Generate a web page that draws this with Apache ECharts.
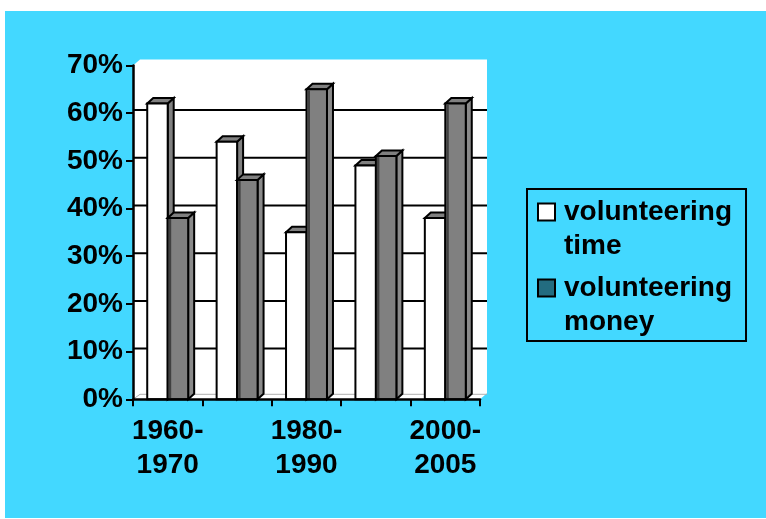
<!DOCTYPE html>
<html>
<head>
<meta charset="utf-8">
<script src="https://cdn.jsdelivr.net/npm/echarts@6/dist/echarts.min.js"></script>
<style>
  html, body { margin: 0; padding: 0; background: #ffffff; width: 766px; height: 519px; overflow: hidden; }
  #chart { position: absolute; left: 5px; top: 11px; width: 761px; height: 507px; }
</style>
</head>
<body>
<div id="chart"></div>
<script>
// ---- data ----
const categories = ['1960-\n1970', '1970-\n1980', '1980-\n1990', '1990-\n2000', '2000-\n2005'];
const timeValues = [62, 54, 35, 49, 38];
const moneyValues = [38, 46, 65, 51, 62];
const yTicks = [0, 10, 20, 30, 40, 50, 60, 70];
const seriesNames = ['volunteering time', 'volunteering money'];

// ---- styles ----
const FONT = 'Liberation Sans';
const BG = '#43D8FF';
const DX = 6, DY = -5.5;          // bar depth offset
const WDX = 7, WDY = -6, GDY = -3; // wall depth offsets

const chart = echarts.init(document.getElementById('chart'), null, { renderer: 'canvas' });

function barRender(kind) {
  return function (params, api) {
    const i = api.value(0), v = api.value(1);
    const c = api.coord([i, v]);
    const b = api.coord([i, 0]);
    const w = api.size([1, 0])[0] * 0.295;
    let xL, xR;
    if (kind === 'time') { xL = c[0] - w; xR = c[0]; } else { xL = c[0]; xR = c[0] + w; }
    const yT = c[1], yB = b[1];
    const frontFill = kind === 'time' ? '#ffffff' : '#808080';
    const sideFill = kind === 'time' ? '#808080' : '#8a8a8a';
    const topFill = '#808080';
    const stroke = { stroke: '#000', lineWidth: 2, lineJoin: 'miter' };
    const children = [
      { type: 'polygon', shape: { points: [[xR, yT], [xR + DX, yT + DY], [xR + DX, yB + DY], [xR, yB]] },
        style: Object.assign({ fill: sideFill }, stroke) },
      { type: 'polygon', shape: { points: [[xL, yT], [xL + DX, yT + DY], [xR + DX, yT + DY], [xR, yT]] },
        style: Object.assign({ fill: topFill }, stroke) },
      { type: 'rect', shape: { x: xL, y: yT, width: xR - xL, height: yB - yT },
        style: Object.assign({ fill: frontFill }, stroke) }
    ];
    if (kind === 'money') {
      children.push({ type: 'rect', shape: { x: xL + 1, y: yT + 1, width: 2.5, height: yB - yT - 2 },
        style: { fill: '#404040' } });
    }
    return { type: 'group', children: children };
  };
}

function wallRender(params, api) {
  const cs = params.coordSys;
  const x0 = cs.x, x1 = cs.x + cs.width, yT = cs.y, yB = cs.y + cs.height;
  const children = [
    { type: 'polygon', shape: { points: [[x0, yT], [x0 + WDX, yT + WDY], [x1 + WDX, yT + WDY], [x1 + WDX, yB + WDY], [x1, yB], [x0, yB]] },
      style: { fill: '#ffffff' } },
    { type: 'line', shape: { x1: x0 + WDX, y1: yB + WDY + 1, x2: x1 + WDX, y2: yB + WDY + 1 },
      style: { stroke: '#b0b0b0', lineWidth: 1 } },
    { type: 'line', shape: { x1: x0, y1: yB, x2: x0 + WDX, y2: yB + WDY + 1 },
      style: { stroke: '#b0b0b0', lineWidth: 1 } }
  ];
  yTicks.forEach(function (t) {
    if (t === yTicks[0] || t === yTicks[yTicks.length - 1]) return;
    const y = api.coord([0, t])[1] + GDY;
    children.push({ type: 'line', shape: { x1: x0, y1: y, x2: x1 + WDX, y2: y },
      style: { stroke: '#000', lineWidth: 2 } });
  });
  return { type: 'group', children: children };
}

const option = {
  backgroundColor: BG,
  animation: false,
  textStyle: { fontFamily: FONT },
  grid: { left: 128, top: 54.4, width: 347, height: 333.9, containLabel: false },
  legend: {
    orient: 'vertical',
    left: 522,
    top: 178,
    padding: [5, 14, 1, 10],
    borderColor: '#000',
    borderWidth: 2,
    borderRadius: 0,
    itemGap: 6,
    itemWidth: 17,
    itemHeight: 68,
    selectedMode: false,
    icon: 'path://M0,0 M0,8.5 h17 v17 h-17 Z M0,68',
    formatter: function (name) { return name.replace(' ', '\n'); },
    textStyle: { fontFamily: FONT, fontSize: 28, fontWeight: 'bold', color: '#000', lineHeight: 34, padding: [0, 0, 0, 4] },
    data: [
      { name: seriesNames[0], itemStyle: { color: '#ffffff', borderColor: '#000', borderWidth: 2 } },
      { name: seriesNames[1], itemStyle: { color: '#236C80', borderColor: '#000', borderWidth: 2 } }
    ]
  },
  xAxis: {
    type: 'category',
    data: categories,
    boundaryGap: true,
    z: 5,
    axisLine: { show: true, lineStyle: { color: '#000', width: 2.5 } },
    axisTick: { show: true, interval: 0, alignWithLabel: false, length: 7, lineStyle: { color: '#000', width: 2 } },
    axisLabel: { interval: 1, margin: 15, fontFamily: FONT, fontSize: 28, fontWeight: 'bold', color: '#000', lineHeight: 34 },
    splitLine: { show: false }
  },
  yAxis: {
    type: 'value',
    min: yTicks[0],
    max: yTicks[yTicks.length - 1],
    interval: yTicks[1] - yTicks[0],
    z: 5,
    axisLine: { show: true, lineStyle: { color: '#000', width: 2.5 } },
    axisTick: { show: true, length: 7, lineStyle: { color: '#000', width: 2 } },
    axisLabel: { margin: 10, formatter: '{value}%', fontFamily: FONT, fontSize: 28, fontWeight: 'bold', color: '#000' },
    splitLine: { show: false }
  },
  series: [
    { type: 'custom', name: 'wall', silent: true, z: 1, renderItem: wallRender, data: [[0, 0]] },
    { type: 'custom', name: seriesNames[0], z: 2, renderItem: barRender('time'),
      itemStyle: { color: '#ffffff' },
      data: timeValues.map(function (v, i) { return [i, v]; }) },
    { type: 'custom', name: seriesNames[1], z: 3, renderItem: barRender('money'),
      itemStyle: { color: '#236C80' },
      data: moneyValues.map(function (v, i) { return [i, v]; }) }
  ]
};

chart.setOption(option);
</script>
</body>
</html>
